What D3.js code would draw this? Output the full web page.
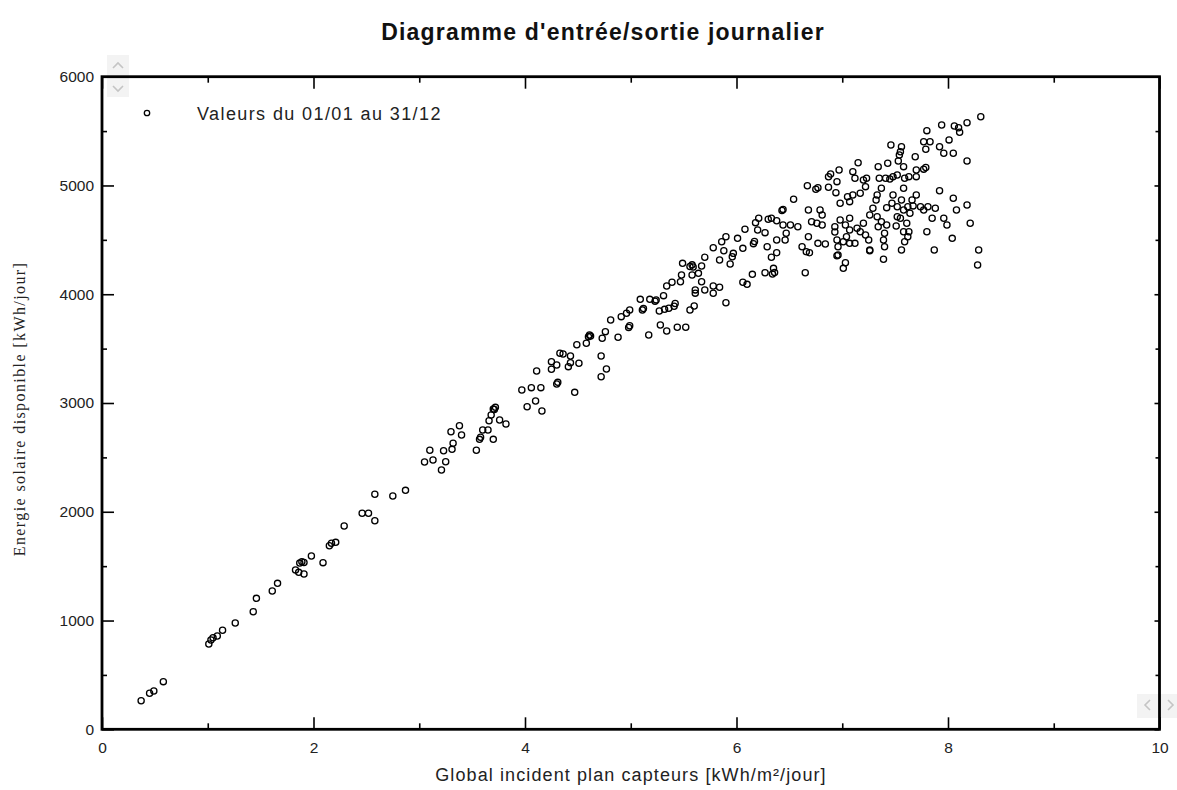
<!DOCTYPE html>
<html>
<head>
<meta charset="utf-8">
<script src="https://cdn.jsdelivr.net/npm/d3@7"></script>
<style>
  html, body { margin: 0; padding: 0; background: #ffffff; }
  svg { display: block; }
</style>
</head>
<body>
<svg id="chart" width="1177" height="790"></svg>
<script>
const titleText = "Diagramme d'entrée/sortie journalier";
const xLabel = "Global incident plan capteurs [kWh/m²/jour]";
const yLabel = "Energie solaire disponible [kWh/jour]";
const legendLabel = "Valeurs du 01/01 au 31/12";
const xTicks = [0, 2, 4, 6, 8, 10];
const xMinorTicks = [1, 3, 5, 7, 9];
const yTicks = [0, 1000, 2000, 3000, 4000, 5000, 6000];
const yMinorTicks = [500, 1500, 2500, 3500, 4500, 5500];

// [global incident kWh/m²/day, available solar energy kWh/day]
const lowerDays = [
[0.37,263],[0.45,331],[0.49,352],[0.58,438],[1.01,784],[1.03,821],[1.05,842],[1.09,858],[1.14,910],[1.26,977],
[1.43,1081],[1.46,1204],[1.61,1272],[1.66,1342],[1.83,1465],[1.86,1443],[1.91,1428],[1.87,1528],[1.89,1540],[1.91,1533],
[2.09,1532],[1.98,1593],[2.15,1688],[2.17,1710],[2.21,1719],[2.29,1869],[2.46,1986],[2.52,1986],[2.58,1918],[2.58,2161],
[2.75,2145],[2.87,2197],[3.05,2458],[3.13,2476],[3.10,2565],[3.21,2384],[3.25,2460],[3.23,2561],[3.31,2574],[3.32,2630],
[3.30,2736],[3.38,2791],[3.40,2706],[3.54,2565],[3.57,2666],[3.58,2685],[3.60,2752],[3.65,2752],[3.70,2666],[3.66,2837],
[3.68,2890],[3.70,2945],[3.72,2960],[3.71,2940],[3.76,2844],[3.82,2807],[3.97,3120],[4.06,3141],[4.15,3141],[4.02,2966],
[4.10,3018],[4.16,2926],[4.11,3294],[4.30,3175],[4.31,3190],[4.47,3098],[4.25,3310],[4.25,3380],[4.30,3349],[4.33,3457],
[4.36,3451],[4.43,3432],[4.41,3334],[4.43,3371],[4.51,3365],[4.49,3536],[4.58,3549],[4.60,3610],[4.61,3625],[4.62,3615],
[4.72,3432],[4.73,3595],[4.76,3656],[4.77,3313],[4.72,3242],[4.88,3604],[4.81,3763],[4.91,3794],[4.96,3825],[4.99,3855],
[4.98,3695],[4.99,3710],[5.09,3953],[5.11,3855],[5.12,3868],[5.17,3625],[5.18,3953],[5.23,3935],[5.24,3948],[5.27,3846],
[5.31,3987],[5.28,3717],[5.34,3662],[5.32,3861],[5.36,3871],[5.41,3890],[5.42,3915],[5.44,3696],[5.52,3696],[5.56,3855],
[5.60,3892],[5.34,4076],[5.39,4110],[5.47,4115],[5.48,4177],[5.49,4284],[5.56,4255],[5.58,4270],[5.59,4250],[5.58,4177],
[5.64,4192],[5.67,4260],[5.70,4340],[5.67,4115],[5.61,4010],[5.61,4040],[5.70,4039],[5.78,4009],[5.78,4076],[5.84,4064],
[5.90,3922],[5.84,4315],[5.94,4278],[5.96,4345],[6.06,4110],[6.10,4091],[6.15,4183],[6.27,4198],[6.34,4185],[6.36,4200],
[6.38,4382],[6.33,4340],[6.35,4238],[6.08,4597],[6.01,4514],[5.90,4529],[5.86,4483],[5.78,4428],[5.88,4400],[5.97,4376],
[6.06,4422],[6.16,4465],[6.17,4485],[6.30,4689],[6.20,4591]
];
const upperDays = [
[8.31,5632],[8.18,5577],[8.10,5531],[8.11,5489],[8.06,5547],[7.94,5556],[7.80,5504],[7.77,5402],[7.83,5402],[7.79,5333],
[8.01,5419],[7.92,5356],[7.96,5296],[8.05,5296],[8.18,5225],[7.69,5264],[7.77,5150],[7.79,5165],[7.70,5142],[7.70,5081],
[7.63,5081],[7.56,5356],[7.54,5280],[7.55,5310],[7.53,5225],[7.46,5372],[7.58,5173],[7.59,5066],[7.58,4974],[7.52,5096],
[7.48,5081],[7.45,5060],[7.43,5204],[7.34,5173],[7.35,5066],[7.41,5066],[7.37,4974],[7.15,5209],[7.10,5127],[7.12,5066],
[7.20,5050],[7.23,5066],[7.22,4989],[7.17,4928],[7.10,4912],[7.05,4897],[6.97,5142],[6.95,5035],[6.94,4934],[6.87,5080],
[6.89,5105],[6.87,4983],[6.75,4965],[6.77,4980],[6.67,4998],[6.54,4873],[6.43,4770],[6.44,4780],[6.21,4698],[6.18,4658],
[6.27,4566],[6.29,4437],[6.33,4698],[6.38,4676],[6.44,4637],[6.47,4560],[6.51,4637],[6.58,4621],[6.46,4499],[6.38,4499],
[6.62,4437],[6.66,4391],[6.65,4198],[6.68,4529],[6.68,4775],[6.79,4775],[6.81,4729],[6.71,4667],[6.76,4652],[6.81,4637],
[6.77,4468],[6.84,4462],[6.93,4621],[6.95,4499],[6.96,4437],[6.96,4361],[7.03,4290],[7.01,4238],[6.98,4836],[7.07,4851],
[6.98,4683],[7.03,4637],[7.07,4591],[6.93,4572],[7.07,4698],[7.14,4606],[7.04,4529],[7.01,4483],[7.07,4468],[7.12,4468],
[7.17,4575],[7.22,4545],[7.25,4499],[7.26,4407],[7.20,4652],[7.26,4729],[7.29,4790],[7.32,4867],[7.33,4913],[7.33,4713],
[7.37,4667],[7.42,4637],[7.34,4621],[7.40,4560],[7.39,4499],[7.40,4437],[7.39,4321],[7.42,4796],[7.47,4836],[7.52,4805],
[7.48,4913],[7.56,4867],[7.52,4713],[7.55,4698],[7.58,4775],[7.62,4805],[7.66,4867],[7.70,4913],[7.67,4812],[7.64,4744],
[7.61,4652],[7.51,4628],[7.58,4575],[7.63,4575],[7.62,4529],[7.59,4483],[7.56,4407],[7.74,4805],[7.77,4775],[7.81,4805],
[7.88,4790],[7.85,4698],[7.80,4575],[7.87,4407],[7.92,4952],[7.96,4698],[7.99,4637],[8.04,4514],[8.05,4882],[8.08,4775],
[8.18,4821],[8.21,4652],[8.29,4407],[8.28,4269],[6.69,4382],[6.95,4354],[7.26,4400]
];

const svg = d3.select("#chart");
const plot = { left: 102, right: 1159.5, top: 76.7, bottom: 729.3 };

const x = d3.scaleLinear().domain([0, 10]).range([plot.left, plot.right]);
const y = d3.scaleLinear().domain([0, 6000]).range([plot.bottom, plot.top]);

const sans = "'Liberation Sans', Arial, sans-serif";
const serif = "'Liberation Serif', 'Times New Roman', serif";

// Ghost scroll controls (light grey)
svg.append("rect").attr("x", 107).attr("y", 55).attr("width", 22).attr("height", 42).attr("fill", "#f3f3f3");
svg.append("rect").attr("x", 1137).attr("y", 694).attr("width", 40).attr("height", 24).attr("fill", "#f3f3f3");
const ghost = svg.append("g").attr("fill", "none").attr("stroke", "#c4c4c4").attr("stroke-width", 1.6);
ghost.append("path").attr("d", "M113,68 L118,63 L123,68");
ghost.append("path").attr("d", "M113,86 L118,91 L123,86");
ghost.append("path").attr("d", "M1150,700 L1145,705 L1150,710");
ghost.append("path").attr("d", "M1168,700 L1173,705 L1168,710");

// Title
svg.append("text")
  .attr("x", 603).attr("y", 40)
  .attr("text-anchor", "middle")
  .attr("font-family", sans).attr("font-weight", "bold")
  .attr("font-size", 23).attr("letter-spacing", 1.2).attr("fill", "#111")
  .text(titleText);

// Frame
svg.append("rect")
  .attr("x", plot.left).attr("y", plot.top)
  .attr("width", plot.right - plot.left).attr("height", plot.bottom - plot.top)
  .attr("fill", "none").attr("stroke", "#000").attr("stroke-width", 2.8);

// Axes with inward ticks
const bottomAxis = d3.axisTop(x).tickValues(xTicks).tickSize(12).tickFormat("");
const bottomMinor = d3.axisTop(x).tickValues(xMinorTicks).tickSize(6).tickFormat("");
const topAxis = d3.axisBottom(x).tickValues(xTicks).tickSize(12).tickFormat("");
const topMinor = d3.axisBottom(x).tickValues(xMinorTicks).tickSize(6).tickFormat("");
const leftAxis = d3.axisRight(y).tickValues(yTicks).tickSize(12).tickFormat("");
const leftMinor = d3.axisRight(y).tickValues(yMinorTicks).tickSize(5).tickFormat("");
const rightAxis = d3.axisLeft(y).tickValues(yTicks).tickSize(5).tickFormat("");
const rightMinor = d3.axisLeft(y).tickValues(yMinorTicks).tickSize(4).tickFormat("");

function drawAxis(ax, tx, ty) {
  const g = svg.append("g").attr("transform", `translate(${tx},${ty})`).call(ax);
  g.select(".domain").remove();
  g.selectAll(".tick line").attr("stroke", "#000").attr("stroke-width", 1.6);
}
drawAxis(bottomAxis, 0, plot.bottom);
drawAxis(bottomMinor, 0, plot.bottom);
drawAxis(topAxis, 0, plot.top);
drawAxis(topMinor, 0, plot.top);
drawAxis(leftAxis, plot.left, 0);
drawAxis(leftMinor, plot.left, 0);
drawAxis(rightAxis, plot.right, 0);
drawAxis(rightMinor, plot.right, 0);

// Tick labels
const xl = d3.axisBottom(x).tickValues(xTicks).tickSize(0).tickPadding(13).tickFormat(d3.format("d"));
const gx = svg.append("g").attr("transform", `translate(0,${plot.bottom})`).call(xl);
gx.select(".domain").remove();
gx.selectAll("text").attr("font-family", sans).attr("font-size", 15.5).attr("fill", "#222");

const yl = d3.axisLeft(y).tickValues(yTicks).tickSize(0).tickPadding(8).tickFormat(d3.format("d"));
const gy = svg.append("g").attr("transform", `translate(${plot.left},0)`).call(yl);
gy.select(".domain").remove();
gy.selectAll("text").attr("font-family", sans).attr("font-size", 15.5).attr("fill", "#222");

// Axis titles
svg.append("text")
  .attr("x", 631).attr("y", 781)
  .attr("text-anchor", "middle")
  .attr("font-family", sans).attr("font-size", 18).attr("letter-spacing", 1.1).attr("fill", "#222")
  .text(xLabel);

svg.append("text")
  .attr("transform", "translate(25,409) rotate(-90)")
  .attr("text-anchor", "middle")
  .attr("font-family", serif).attr("font-size", 16).attr("letter-spacing", 1.4).attr("fill", "#222")
  .text(yLabel);

// Points
const allDays = lowerDays.concat(upperDays);
svg.append("g")
  .selectAll("circle")
  .data(allDays)
  .join("circle")
  .attr("cx", d => x(d[0]))
  .attr("cy", d => y(d[1]))
  .attr("r", 3.1)
  .attr("fill", "none")
  .attr("stroke", "#000")
  .attr("stroke-width", 1.3);

// Legend
svg.append("circle")
  .attr("cx", 147).attr("cy", 113).attr("r", 2.7)
  .attr("fill", "none").attr("stroke", "#000").attr("stroke-width", 1.3);
svg.append("text")
  .attr("x", 197).attr("y", 120)
  .attr("font-family", sans).attr("font-size", 18).attr("letter-spacing", 1.4).attr("fill", "#222")
  .text(legendLabel);
</script>
</body>
</html>
